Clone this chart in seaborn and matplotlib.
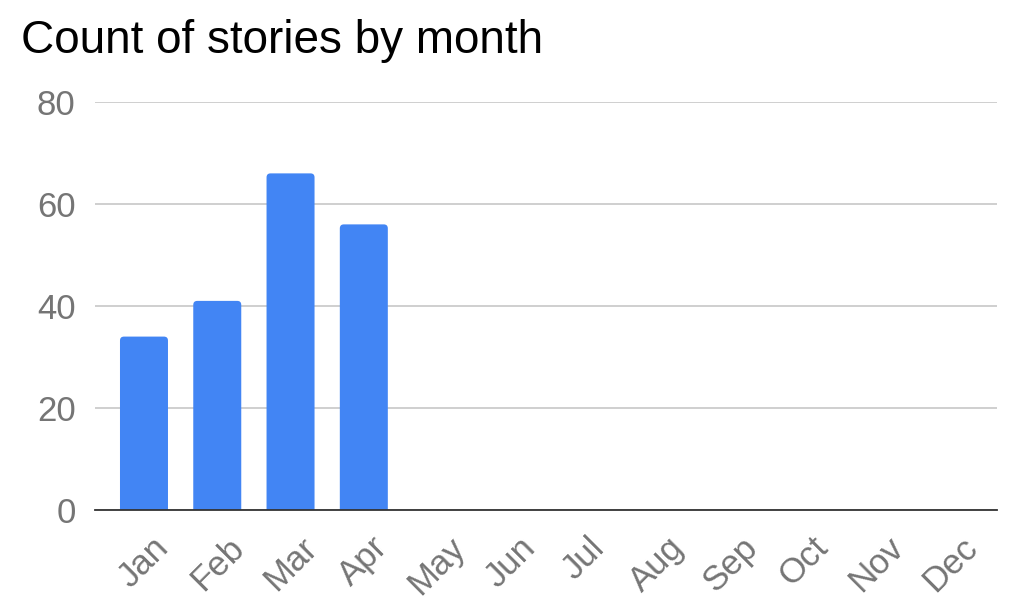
import matplotlib
matplotlib.use('Agg')
import matplotlib.pyplot as plt
from matplotlib.patches import FancyBboxPatch
import pandas as pd
import seaborn as sns

# Chart data
months = ['Jan', 'Feb', 'Mar', 'Apr', 'May', 'Jun',
          'Jul', 'Aug', 'Sep', 'Oct', 'Nov', 'Dec']
story_counts = [34, 41, 66, 56, 0, 0, 0, 0, 0, 0, 0, 0]
y_ticks = [0, 20, 40, 60, 80]

df = pd.DataFrame({'month': months, 'count': story_counts})

sns.set_style('white')
plt.rcParams['font.family'] = ['Liberation Sans', 'DejaVu Sans']

fig = plt.figure(figsize=(10.24, 6.07), dpi=100)
ax = fig.add_axes([0.0928, 0.1598, 0.8808, 0.6722])

sns.barplot(data=df, x='month', y='count', color='#4285F4', width=0.655,
            saturation=1, ax=ax, zorder=3)

ax.set_ylim(0, 80)
ax.set_xlim(-0.668, 11.64)
ax.set_yticks(y_ticks)
ax.yaxis.grid(True, color='#cccccc', linewidth=1.3, zorder=0)
ax.set_axisbelow(True)

# swap the plain bars for ones with slightly rounded top corners
fig.canvas.draw()
px_x = ax.transData.transform((1, 0))[0] - ax.transData.transform((0, 0))[0]
px_y = ax.transData.transform((0, 1))[1] - ax.transData.transform((0, 0))[1]
radius = 4 / px_x
for bar in list(ax.patches):
    x, w, h = bar.get_x(), bar.get_width(), bar.get_height()
    bar.set_visible(False)
    if h <= 0:
        continue
    ax.add_patch(FancyBboxPatch((x, -2), w, h + 2,
                                boxstyle=f'round,pad=0,rounding_size={radius}',
                                mutation_aspect=px_x / px_y,
                                facecolor='#4285F4', edgecolor='none', zorder=3))

for side in ['top', 'right', 'left']:
    ax.spines[side].set_visible(False)
ax.spines['bottom'].set_color('#333333')
ax.spines['bottom'].set_linewidth(1.3)
ax.spines['bottom'].set_zorder(4)

ax.tick_params(axis='y', length=0, pad=14, labelsize=25, labelcolor='#757575')
ax.tick_params(axis='x', length=0, pad=15, labelsize=25, labelcolor='#757575')
for lbl in ax.get_xticklabels():
    lbl.set_rotation(45)
    lbl.set_ha('center')

ax.set_xlabel('')
ax.set_ylabel('')

fig.text(0.0205, 0.9127, 'Count of stories by month', fontsize=33,
         color='black', ha='left', va='baseline')

fig.savefig('out.png', dpi=100)
